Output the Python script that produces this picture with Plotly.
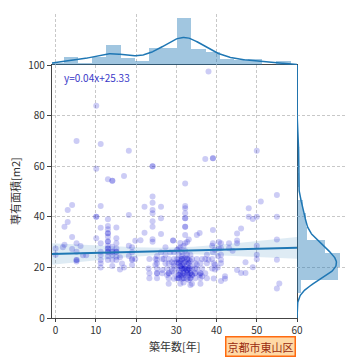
import numpy as np
import plotly.graph_objects as go

# ---- data: building age [years], exclusive area [m2], number of listings at that point ----
age = [
    0.0, 0.0, 1.8,
    2.2, 2.2, 3.0, 3.0, 4.1, 4.1, 4.1, 5.2, 5.2, 5.2, 5.2, 5.2,
    6.2, 6.8, 7.6,
    10.1, 10.1, 10.1, 10.1,
    11.2, 11.2, 11.2, 11.2, 11.2, 11.2, 11.2, 11.2, 11.2,
    13.0, 13.0, 13.0, 13.0, 13.0, 13.0, 13.0, 13.0, 13.0, 13.0, 13.0, 13.0,
    14.1, 14.1, 14.1, 14.1, 14.1, 14.1,
    15.1, 15.1, 15.1, 15.1, 15.1, 15.1, 15.1,
    16.0, 16.0,
    16.5, 17.0, 17.0, 18.2, 18.2, 18.2, 18.2, 19.0, 19.0, 19.0, 19.0, 19.0,
    19.8, 19.8, 21.1, 22.1, 22.1, 23.1,
    23.3, 23.3, 23.3,
    24.1, 24.1, 24.1, 24.1, 24.1, 24.1, 24.1, 24.1, 24.1,
    24.8, 24.8,
    25.2, 25.2, 25.2, 25.2, 25.2, 25.2,
    26.2, 26.2, 26.2, 26.2,
    26.5, 26.5, 26.5,
    26.9, 27.3, 27.3, 27.3, 27.7, 27.7,
    28.1, 28.1, 28.1, 28.1, 28.1,
    28.5,
    28.9, 28.9, 28.9,
    29.2,
    29.4, 29.4, 29.4, 29.4, 29.4, 29.4,
    30.2, 30.2, 30.2, 30.2, 30.2,
    30.6, 30.6, 30.6, 30.6, 30.6, 30.6, 30.6,
    31.0, 31.0, 31.0, 31.0, 31.0, 31.0,
    31.4, 31.4, 31.4, 31.4, 31.4, 31.4, 31.4,
    31.8, 31.8, 31.8, 31.8, 31.8, 31.8, 31.8,
    32.2, 32.2, 32.2, 32.2, 32.2, 32.2, 32.2, 32.2, 32.2, 32.2, 32.2, 32.2, 32.2,
    32.7, 32.7, 32.7, 32.7, 32.7, 32.7, 32.7,
    33.1, 33.1, 33.1, 33.1, 33.1, 33.1,
    33.5, 33.5, 33.5, 33.5, 33.5, 33.5, 33.5,
    33.9, 33.9, 33.9, 33.9,
    34.7, 34.7, 34.7, 34.7,
    35.1, 35.1, 35.1, 35.1,
    35.8, 35.8,
    36.0, 36.0, 36.0, 36.0,
    36.4, 36.4, 36.4,
    37.2, 37.2, 37.2,
    37.6, 37.6, 37.6,
    38.0, 38.0,
    38.9, 38.9, 38.9,
    39.1, 39.1, 39.1, 39.1,
    39.3, 39.3,
    39.6, 39.6, 39.6,
    40.3, 40.3,
    40.6, 40.6,
    41.1, 41.1, 41.1, 41.1, 41.1, 41.1,
    42.1, 42.1, 43.1, 43.1, 44.0,
    45.1, 45.1, 45.1, 45.1, 46.1, 46.1, 47.2, 47.2,
    48.0, 48.0, 49.0, 49.0, 50.0, 50.0, 50.0, 50.0, 50.0, 51.0,
    55.0, 55.0, 55.0, 55.0, 55.0, 55.6,
]
area = [
    27.5, 25.0, 28.0,
    36.1, 29.0, 42.7, 37.9, 44.7, 32.0, 27.3, 70.0, 29.5, 26.2, 22.9, 22.3,
    28.5, 24.8, 24.8,
    83.9, 59.0, 40.0, 31.5,
    68.8, 44.3, 35.7, 29.5, 26.2, 24.9, 22.9, 21.6, 20.0,
    54.8, 39.0, 36.4, 35.1, 33.5, 32.1, 30.2, 28.6, 27.5, 26.2, 24.5, 22.9,
    54.2, 28.2, 26.2, 24.9, 22.9, 20.6,
    35.8, 31.5, 29.5, 27.5, 26.2, 24.2, 22.9,
    19.2, 24.0,
    21.5, 56.1, 20.0, 66.1, 40.7, 28.6, 24.5, 22.9, 20.9, 23.3, 28.0, 26.0,
    23.3, 30.5, 30.7, 44.0, 33.7, 19.6,
    15.7, 17.7, 23.3,
    60.0, 48.0, 45.6, 42.7, 41.4, 38.2, 36.1, 31.1, 30.1,
    23.3, 21.0,
    21.6, 19.6, 17.7, 15.7, 23.0, 24.5,
    44.0, 39.4, 33.2, 26.0,
    17.7, 23.3, 19.0,
    23.3, 21.6, 25.0, 28.0, 19.6, 17.0,
    23.3, 21.6, 17.7, 15.7, 13.5,
    26.0,
    19.6, 22.0, 18.5,
    30.6,
    23.3, 21.6, 17.7, 20.5, 15.5, 26.0,
    23.3, 19.6, 15.7, 22.0, 27.0,
    21.6, 15.7, 19.0, 23.0, 17.0, 25.0, 27.5,
    17.7, 13.5, 29.6, 28.0, 20.5, 22.5,
    23.3, 19.6, 21.0, 17.0, 15.5, 26.0, 24.5,
    21.6, 17.7, 15.7, 19.5, 23.5, 14.0, 28.5,
    53.2, 44.3, 43.4, 41.4, 39.4, 36.1, 32.8, 29.5, 19.6, 22.0, 17.0, 26.5, 24.0,
    23.3, 17.7, 21.0, 19.0, 15.5, 25.0, 30.0,
    21.6, 19.6, 17.0, 23.0, 15.0, 31.0,
    17.7, 15.7, 20.5, 22.5, 13.0, 19.0, 25.0,
    23.3, 19.6, 13.5, 17.0,
    21.6, 17.7, 15.7, 19.5,
    32.8, 23.3, 19.6, 21.0,
    33.6, 17.0,
    21.6, 17.7, 15.7, 13.5,
    23.3, 19.6, 16.5,
    62.8, 23.3, 17.7,
    21.6, 15.7, 25.0,
    97.4, 23.0,
    23.3, 19.6, 28.6,
    63.1, 34.8, 29.5, 26.0,
    21.6, 15.6,
    21.0, 19.2, 27.0,
    24.5, 20.0,
    27.5, 30.0,
    29.5, 27.6, 25.0, 23.0, 21.6, 14.6,
    16.5, 15.5, 29.5, 27.6, 26.6,
    33.4, 30.6, 29.5, 19.0, 35.4, 17.8, 17.8, 22.0,
    43.4, 40.0, 39.1, 20.1, 66.1, 40.0, 28.6, 25.0, 23.2, 46.0,
    48.6, 40.0, 31.0, 23.0, 11.7, 13.6,
]
count = [
    1, 1, 1,
    1, 1, 1, 1, 1, 1, 1, 1, 1, 1, 2, 1,
    1, 1, 1,
    1, 1, 2, 1,
    1, 1, 1, 1, 1, 1, 1, 1, 1,
    1, 1, 1, 1, 2, 1, 2, 1, 2, 2, 1, 1,
    2, 1, 2, 1, 1, 1,
    1, 1, 1, 1, 2, 1, 1,
    1, 1,
    1, 1, 1, 1, 1, 1, 1, 1, 1, 1, 1, 1,
    1, 1, 1, 1, 1, 1,
    1, 1, 1,
    2, 1, 1, 1, 1, 1, 1, 1, 1,
    1, 1,
    1, 1, 2, 1, 1, 1,
    1, 1, 1, 1,
    1, 1, 1,
    1, 1, 1, 1, 1, 1,
    1, 1, 2, 1, 1,
    1,
    1, 1, 1,
    2,
    1, 1, 1, 1, 1, 1,
    1, 1, 1, 1, 1,
    2, 2, 1, 1, 2, 1, 1,
    2, 1, 1, 1, 2, 1,
    2, 2, 1, 1, 1, 1, 1,
    2, 2, 2, 2, 1, 1, 1,
    1, 1, 1, 1, 2, 2, 1, 1, 2, 1, 1, 1, 1,
    2, 2, 1, 2, 1, 1, 1,
    2, 2, 1, 1, 1, 1,
    2, 2, 1, 1, 1, 1, 1,
    1, 1, 1, 2,
    1, 2, 1, 1,
    1, 1, 1, 1,
    1, 1,
    1, 2, 1, 1,
    1, 1, 1,
    1, 1, 1,
    1, 1, 1,
    1, 1,
    1, 1, 1,
    2, 1, 1, 1,
    1, 1,
    1, 1, 1,
    1, 1,
    1, 1,
    1, 1, 1, 1, 1, 1,
    1, 1, 1, 1, 1,
    1, 1, 1, 1, 1, 1, 1, 1,
    1, 1, 1, 1, 1, 1, 1, 1, 1, 1,
    1, 1, 1, 1, 1, 1,
]

# regression printed on the chart: y = slope * x + intercept
fit_slope = 0.04
fit_intercept = 25.33

x_ticks = [0, 10, 20, 30, 40, 50, 60]
y_ticks = [0, 20, 40, 60, 80, 100]
x_title = "築年数[年]"
y_title = "専有面積[m2]"
area_label = "京都市東山区"

# ---- derived ----
x = np.repeat(np.array(age, float), count)
y = np.repeat(np.array(area, float), count)
n = len(x)

XR = (-0.9, 60.0)
YR = (0.0, 100.0)

beta = np.array([fit_intercept, fit_slope])
A = np.column_stack([np.ones(n), x])
resid = y - A @ beta
XtX_inv = np.linalg.inv(A.T @ A)
meat = (A * resid[:, None] ** 2).T @ A
V = XtX_inv @ meat @ XtX_inv
xg = np.linspace(XR[0], XR[1], 200)
G = np.column_stack([np.ones_like(xg), xg])
yg = G @ beta
se = np.sqrt(np.einsum("ij,jk,ik->i", G, V, G))
lo, hi = yg - 1.96 * se, yg + 1.96 * se

XW, YW = 3.52, 5.27
xbins = np.arange(-1.45, 60.0, XW)
hx, ex = np.histogram(x, bins=xbins)
ybins = np.arange(9.7, 101, YW)
hy, ey = np.histogram(y, bins=ybins)


def kde(data, grid):
    bw = data.std(ddof=1) * len(data) ** (-1 / 5)
    z = (grid[:, None] - data[None, :]) / bw
    return np.exp(-0.5 * z ** 2).sum(1) / (len(data) * bw * np.sqrt(2 * np.pi))


gx = np.linspace(XR[0], XR[1], 300)
kx = kde(x, gx) * n * XW
gy = np.linspace(YR[0], YR[1], 300)
ky = kde(y, gy) * n * YW

BLUE = "#1f77b4"
fig = go.Figure()

fig.add_trace(go.Scatter(x=np.concatenate([xg, xg[::-1]]), y=np.concatenate([hi, lo[::-1]]),
                         fill="toself", fillcolor="rgba(31,119,180,0.15)", line=dict(width=0),
                         hoverinfo="skip", showlegend=False, xaxis="x", yaxis="y"))
fig.add_trace(go.Scatter(x=x, y=y, mode="markers",
                         marker=dict(size=6, color="rgba(0,0,205,0.2)", line=dict(width=0)),
                         showlegend=False, xaxis="x", yaxis="y"))
fig.add_trace(go.Scatter(x=xg, y=yg, mode="lines", line=dict(color=BLUE, width=2),
                         showlegend=False, xaxis="x", yaxis="y"))

fig.add_trace(go.Bar(x=(ex[:-1] + ex[1:]) / 2, y=hx, width=np.diff(ex),
                     marker=dict(color="rgba(31,119,180,0.42)", line=dict(width=0)),
                     showlegend=False, xaxis="x2", yaxis="y2"))
fig.add_trace(go.Scatter(x=gx, y=kx, mode="lines", line=dict(color=BLUE, width=1.5),
                         showlegend=False, xaxis="x2", yaxis="y2"))
fig.add_trace(go.Bar(y=(ey[:-1] + ey[1:]) / 2, x=hy, width=np.diff(ey), orientation="h",
                     marker=dict(color="rgba(31,119,180,0.42)", line=dict(width=0)),
                     showlegend=False, xaxis="x3", yaxis="y3"))
fig.add_trace(go.Scatter(x=ky, y=gy, mode="lines", line=dict(color=BLUE, width=1.5),
                         showlegend=False, xaxis="x3", yaxis="y3"))

# the page body has an 8px margin, so the figure is 352x352 placed at (8, 8)
OFF = 8
W = H = 352


def fx(px):
    return (px - OFF) / W


def fy(py):
    return 1 - (py - OFF) / H


L, R, T, B = 52, 297, 65, 318
TOP, RIGHT = 14, 345
grid = dict(showgrid=True, gridcolor="#c8c8c8", griddash="3px,2px", gridwidth=0.8,
            zeroline=False, automargin=False)
tickfont = dict(family="Noto Sans CJK JP", size=10, color="#333")
titlefont = dict(family="Noto Sans CJK JP", size=11, color="#333")

fig.update_layout(
    width=W, height=H, margin=dict(l=0, r=0, t=0, b=0, autoexpand=False),
    paper_bgcolor="white", plot_bgcolor="rgba(0,0,0,0)", bargap=0,
    xaxis=dict(domain=[fx(L), fx(R)], range=list(XR), anchor="y", tickvals=x_ticks,
               showline=True, linecolor="#444", linewidth=1.2, mirror=True,
               ticks="outside", ticklen=3, tickcolor="#444", tickfont=tickfont, **grid),
    yaxis=dict(domain=[fy(B), fy(T)], range=list(YR), anchor="x", tickvals=y_ticks,
               showline=True, linecolor="#444", linewidth=1.2, mirror=True,
               ticks="outside", ticklen=4, tickcolor="#444", tickfont=tickfont, **grid),
    xaxis2=dict(domain=[fx(L), fx(R)], matches="x", anchor="y2", showticklabels=False,
                showline=False, ticks="", **grid),
    yaxis2=dict(domain=[fy(T), fy(TOP)], range=[0, hx.max() * 1.075], anchor="x2",
                visible=False),
    xaxis3=dict(domain=[fx(R), fx(RIGHT)], range=[0, hy.max() * 1.115], anchor="y3",
                visible=False),
    yaxis3=dict(domain=[fy(B), fy(T)], matches="y", anchor="x3", showticklabels=False,
                showline=False, ticks="", **grid),
    annotations=[
        dict(text=x_title, xref="paper", yref="paper", x=fx((L + R) / 2), y=fy(346),
             xanchor="center", yanchor="middle", showarrow=False, font=titlefont),
        dict(text=y_title, xref="paper", yref="paper", x=fx(15), y=fy(191), textangle=-90,
             xanchor="center", yanchor="middle", showarrow=False, font=titlefont),
        dict(text=f"y={fit_slope:.2f}x+{fit_intercept:.2f}", xref="paper", yref="paper",
             x=fx(62), y=fy(77), xanchor="left", yanchor="middle", showarrow=False,
             font=dict(family="Noto Sans CJK JP", size=10, color="#3a3ac8")),
        dict(text=area_label, xref="paper", yref="paper", x=fx(296), y=fy(346.5),
             xanchor="right", yanchor="middle", showarrow=False,
             font=dict(family="Noto Sans CJK JP", size=11, color="#9a2a10"),
             bgcolor="#ffd9a6", bordercolor="#ff6a10", borderwidth=1.5, borderpad=1),
    ],
)

fig.write_html("out.html")
